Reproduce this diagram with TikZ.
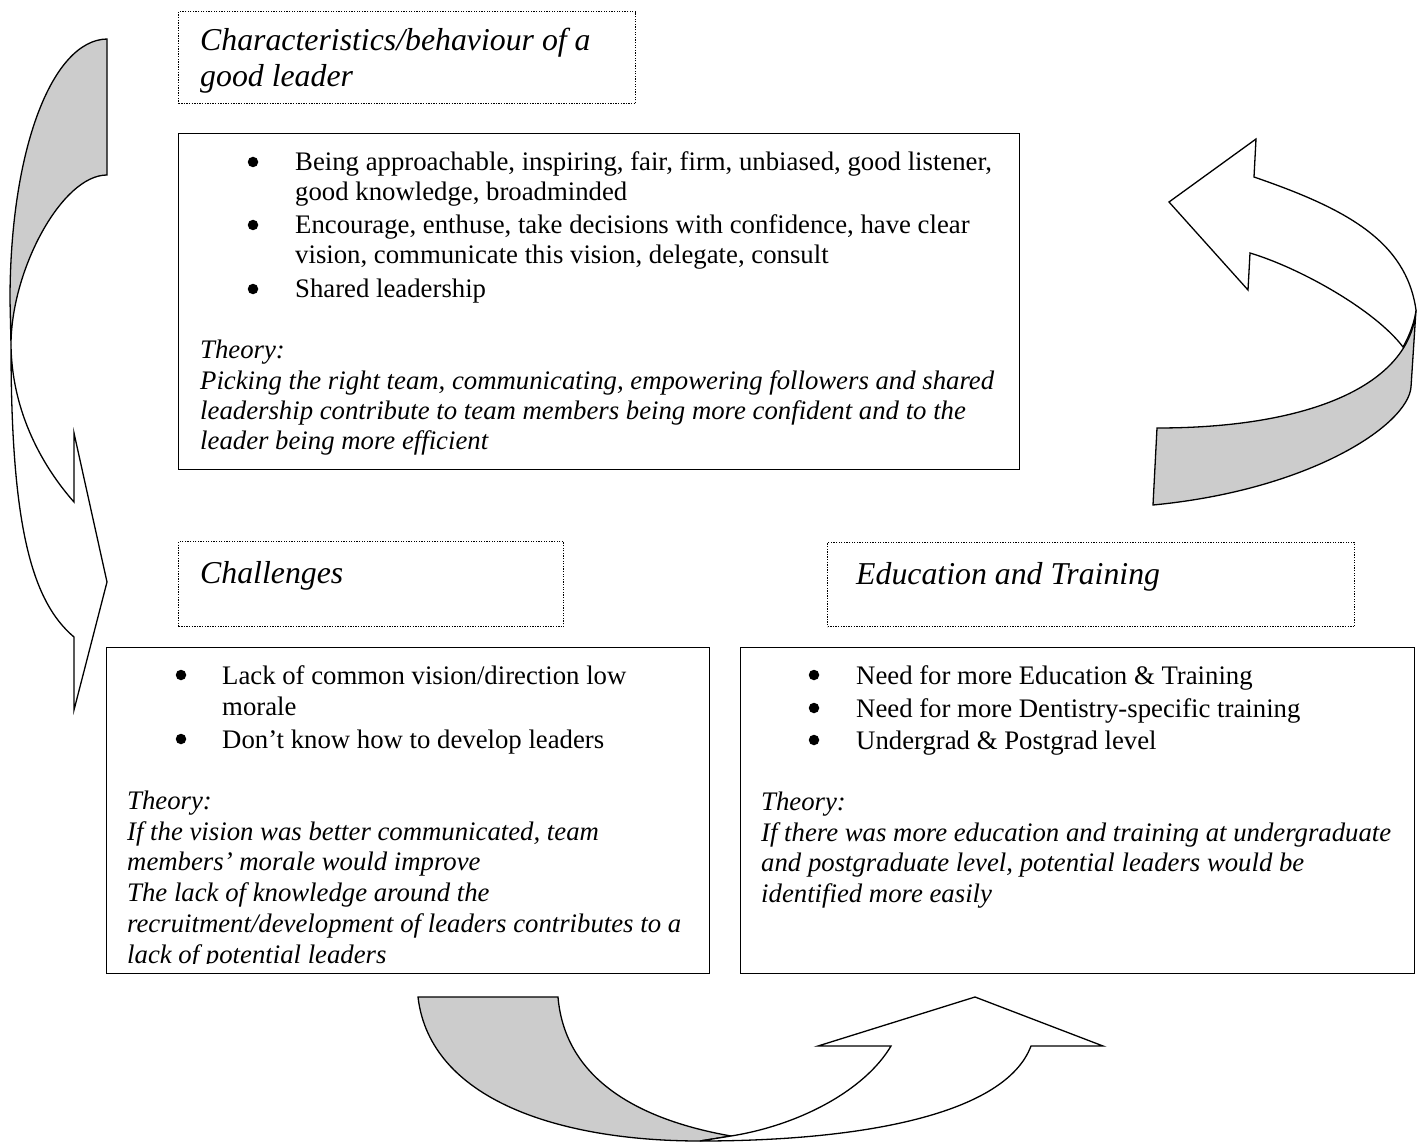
\documentclass[tikz,border=0pt]{standalone}
\usepackage{fontspec}
\setmainfont{Liberation Serif}
\newcommand\bodyfnt{\fontsize{26.75}{30.3}\selectfont}
\newcommand\headfnt{\fontsize{31.8}{36}\selectfont\itshape}
\definecolor{shadegrey}{RGB}{204,204,204}
\begin{document}
\begin{tikzpicture}[x=1pt,y=-1pt,
  solidbox/.style={draw, line width=1.4pt, inner sep=0, anchor=north west},
  dotbox/.style={draw, line width=1.3pt, dash pattern=on 1.3pt off 1.3pt, inner sep=0, anchor=north west},
  txt/.style={anchor=base west, inner sep=0, font=\bodyfnt},
  itxt/.style={anchor=base west, inner sep=0, font=\bodyfnt\itshape},
  hd/.style={anchor=base west, inner sep=0, font=\headfnt},
  bul/.style={circle, fill=black, inner sep=0, minimum size=10.5pt},
  backpart/.style={draw, fill=shadegrey, line width=1.3pt, line join=miter},
  frontpart/.style={draw, fill=white, line width=1.3pt, line join=miter}]
\useasboundingbox (0,0) rectangle (1422,1142);

% ---------- boxes ----------
\node[dotbox, minimum width=457pt, minimum height=92pt] (h1) at (178,11) {};
\node[solidbox, minimum width=841pt, minimum height=336pt] (b1) at (178,133) {};
\node[dotbox, minimum width=385pt, minimum height=85pt] (h2) at (178,541) {};
\node[dotbox, minimum width=527pt, minimum height=84pt] (h3) at (827,542) {};
\node[solidbox, minimum width=603pt, minimum height=326pt] (b2) at (106,647) {};
\node[solidbox, minimum width=674pt, minimum height=326pt] (b3) at (740,647) {};

% ---------- headings ----------
\node[hd] (h1a) at (200,51) {Characteristics/behaviour of a};
\node[hd] (h1b) at (200,87) {good leader};
\node[hd] (h2a) at (200,583) {Challenges};
\node[hd] (h3a) at (856,584) {Education and Training};

% ---------- box 1 ----------
\node[bul] (b1d1) at (253,162) {};
\node[txt] (b1l1) at (295,171) {Being approachable, inspiring, fair, firm, unbiased, good listener,};
\node[txt] (b1l2) at (295,201) {good knowledge, broadminded};
\node[bul] (b1d2) at (253,225) {};
\node[txt] (b1l3) at (295,234) {Encourage, enthuse, take decisions with confidence, have clear};
\node[txt] (b1l4) at (295,264) {vision, communicate this vision, delegate, consult};
\node[bul] (b1d3) at (253,289) {};
\node[txt] (b1l5) at (295,298) {Shared leadership};
\node[itxt] (b1t0) at (200,358) {Theory:};
\node[itxt] (b1t1) at (200,389) {Picking the right team, communicating, empowering followers and shared};
\node[itxt] (b1t2) at (200,419) {leadership contribute to team members being more confident and to the};
\node[itxt] (b1t3) at (200,449) {leader being more efficient};

% ---------- box 2 ----------
\begin{scope}
\clip (106,647) rectangle (709,963);
\node[bul] (b2d1) at (181,675) {};
\node[txt] (b2l1) at (222,684) {Lack of common vision/direction low};
\node[txt] (b2l2) at (222,715) {morale};
\node[bul] (b2d2) at (181,739) {};
\node[txt] (b2l3) at (222,748) {Don’t know how to develop leaders};
\node[itxt] (b2t0) at (127,809) {Theory:};
\node[itxt] (b2t1) at (127,840) {If the vision was better communicated, team};
\node[itxt] (b2t2) at (127,870) {members’ morale would improve};
\node[itxt] (b2t3) at (127,901) {The lack of knowledge around the};
\node[itxt] (b2t4) at (127,932) {recruitment/development of leaders contributes to a};
\node[itxt] (b2t5) at (127,963) {lack of potential leaders};
\end{scope}

% ---------- box 3 ----------
\node[bul] (b3d1) at (814,675) {};
\node[txt] (b3l1) at (856,684) {Need for more Education \& Training};
\node[bul] (b3d2) at (814,708) {};
\node[txt] (b3l2) at (856,717) {Need for more Dentistry-specific training};
\node[bul] (b3d3) at (814,740) {};
\node[txt] (b3l3) at (856,749) {Undergrad \& Postgrad level};
\node[itxt] (b3t0) at (761,810) {Theory:};
\node[itxt] (b3t1) at (761,841) {If there was more education and training at undergraduate};
\node[itxt] (b3t2) at (761,871) {and postgraduate level, potential leaders would be};
\node[itxt] (b3t3) at (761,902) {identified more easily};

% ---------- left curved arrow ----------
\draw[backpart] (107,39) .. controls (52,40) and (10,150) .. (10,300) -- (11,345)
  .. controls (11,270) and (62,175) .. (107,175) -- cycle;
\draw[frontpart] (11,345) .. controls (11,520) and (30,600) .. (74,637) -- (74,710)
  -- (107,582) -- (74,433) -- (74,502) .. controls (50,475) and (12,420) .. (11,345) -- cycle;

% ---------- right curved arrow ----------
\draw[backpart] (1157,428) -- (1153,505) .. controls (1310,490) and (1408,425) .. (1411,387)
  -- (1416,310) .. controls (1410,385) and (1310,428) .. (1157,428) -- cycle;
\draw[frontpart] (1254,177) -- (1256,139) -- (1169,202) -- (1248,290) -- (1250,253)
  .. controls (1300,268) and (1375,310) .. (1403,347)
  .. controls (1410,335) and (1415,320) .. (1416,310)
  .. controls (1406,240) and (1344,208) .. (1254,177) -- cycle;

% ---------- bottom curved arrow ----------
\draw[backpart] (418,997) -- (558,997) .. controls (565,1080) and (640,1120) .. (731,1136)
  -- (700,1141) .. controls (560,1141) and (430,1100) .. (418,997) -- cycle;
\draw[frontpart] (731,1136) .. controls (800,1125) and (865,1090) .. (891,1046) -- (818,1046)
  -- (975,997) -- (1103,1046) -- (1031,1046) .. controls (1005,1115) and (860,1141) .. (700,1141) -- cycle;
\end{tikzpicture}
\end{document}
